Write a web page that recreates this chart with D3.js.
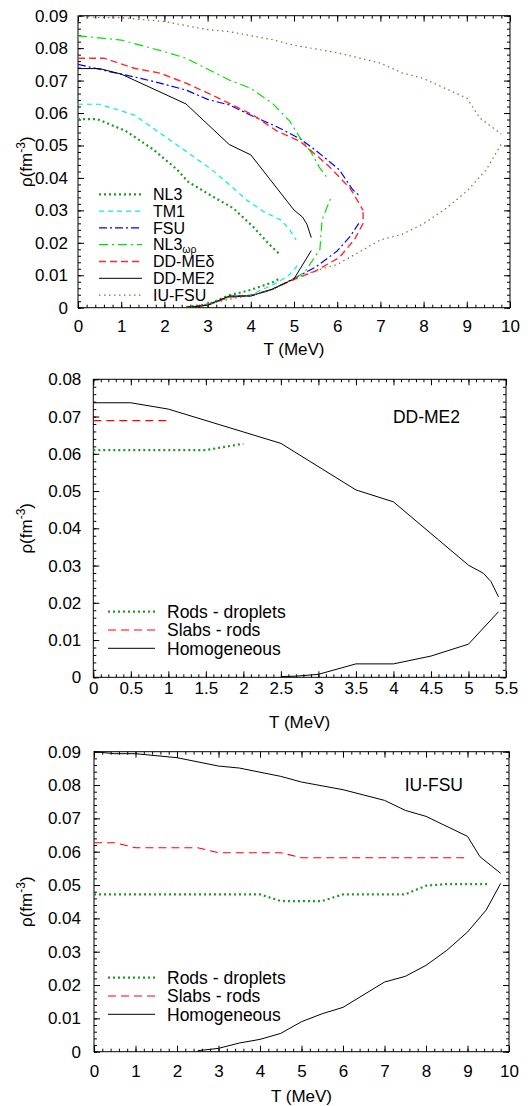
<!DOCTYPE html>
<html lang="en">
<head>
<meta charset="UTF-8">
<title>Phase boundaries</title>
<script src="https://cdn.jsdelivr.net/npm/d3@7/dist/d3.min.js"></script>
<style>
  body { margin: 0; background: #fff; }
  svg { display: block; font-family: "Liberation Sans", Arial, sans-serif; }
  .frame { fill: none; stroke: #000; stroke-width: 1; }
  .curve { fill: none; stroke-linejoin: round; }
  .axis path { display: none; }
  .axis line { stroke: #000; }
</style>
</head>
<body>
<div id="chart"></div>
<script>
// ---- data: [T (MeV), rho (fm^-3)] ----
const nl3Upper = [[0,0.0581],[0.45,0.0581],[1.1,0.0545],[1.75,0.0487],[2.3,0.0425],[2.55,0.0388],[3.0,0.0352],[3.6,0.0306],[4.05,0.0250],[4.4,0.0199],[4.68,0.0163]]
const nl3Lower = [[2.5,0.0002],[3.0,0.0010],[3.5,0.0038],[4.0,0.0055],[4.5,0.0078],[4.7,0.0092]]
const tm1Upper = [[0,0.0627],[0.5,0.0627],[1.3,0.0594],[1.9,0.0538],[2.5,0.0482],[3.1,0.0425],[3.6,0.0368],[3.9,0.0332],[4.3,0.0296],[4.7,0.0270],[4.9,0.0240],[5.05,0.0209]]
const tm1Lower = [[2.5,0.0002],[3.0,0.0010],[3.5,0.0035],[4.0,0.0040],[4.5,0.0070],[4.85,0.0096],[5.05,0.0125],[5.1,0.0142]]
const fsuUpper = [[0,0.0750],[0.75,0.0727],[1.45,0.0707],[1.9,0.0692],[2.5,0.0671],[3.0,0.0642],[3.5,0.0625],[4.05,0.0590],[4.6,0.0558],[5.15,0.0520],[5.55,0.0480],[6.05,0.0425],[6.35,0.0365],[6.5,0.0347]]
const fsuLower = [[2.5,0.0002],[3.0,0.0008],[3.5,0.0033],[4.0,0.0037],[4.5,0.0057],[5.0,0.0090],[5.5,0.0125],[6.0,0.0175],[6.3,0.0220],[6.5,0.0260]]
const nl3wrUpper = [[0,0.0838],[1.0,0.0825],[2.0,0.0789],[2.5,0.0769],[3.5,0.0702],[4.0,0.0676],[4.5,0.0630],[4.9,0.0575],[5.15,0.0522],[5.4,0.0478],[5.6,0.0430],[5.8,0.0395]]
const nl3wrLower = [[2.5,0.0002],[3.0,0.0008],[3.5,0.0033],[4.0,0.0037],[4.5,0.0057],[5.0,0.0089],[5.25,0.0110],[5.45,0.0150],[5.6,0.0180],[5.65,0.0270],[5.75,0.0305],[5.85,0.0337]]
const ddmedUpper = [[0,0.0769],[0.6,0.0769],[1.3,0.0738],[1.9,0.0723],[2.5,0.0692],[3.1,0.0656],[3.5,0.0630],[4.05,0.0594],[4.6,0.0545],[5.15,0.0512],[5.8,0.0437],[6.3,0.0368],[6.6,0.0300]]
const ddmedLower = [[2.5,0.0002],[3.0,0.0008],[3.5,0.0033],[4.0,0.0037],[4.5,0.0057],[5.05,0.0090],[5.5,0.0113],[6.05,0.0155],[6.4,0.0210],[6.6,0.0260],[6.6,0.0300]]
const ddme2Upper = [[0,0.0737],[0.5,0.0737],[1.0,0.0720],[2.5,0.0628],[3.5,0.0503],[4.0,0.0471],[4.6,0.0369],[5.0,0.0301],[5.2,0.0279],[5.3,0.0257],[5.4,0.0216]]
const ddme2Lower = [[2.5,0.0002],[2.7,0.0003],[3.0,0.0008],[3.5,0.0036],[4.0,0.0036],[4.5,0.0057],[5.0,0.0089],[5.4,0.0176]]
const iufsuUpper = [[0,0.0900],[0.5,0.0894],[1.0,0.0894],[2.0,0.0882],[3.0,0.0857],[3.5,0.0851],[4.5,0.0826],[5.0,0.0809],[6.0,0.0786],[7.0,0.0754],[7.5,0.0724],[8.0,0.0706],[9.0,0.0646],[9.3,0.0585],[9.8,0.0535]]
const iufsuLower = [[2.5,0.0003],[3.0,0.0010],[3.5,0.0026],[4.0,0.0037],[4.5,0.0055],[5.0,0.0090],[5.5,0.0114],[6.0,0.0133],[7.0,0.0209],[7.5,0.0226],[8.0,0.0259],[8.5,0.0304],[9.0,0.0359],[9.45,0.0425],[9.8,0.0505]]

// pasta transitions
const ddme2Rods = [[0,0.0610],[0.5,0.0610],[1.0,0.0610],[1.5,0.0610],[2.0,0.0627]]
const ddme2Slabs = [[0,0.0689],[0.5,0.0689],[1.0,0.0689]]
const iufsuRods = [[0,0.0472],[0.5,0.0472],[1,0.0472],[1.5,0.0472],[2,0.0472],[2.5,0.0472],[3,0.0472],[3.5,0.0472],[4,0.0472],[4.5,0.0452],[5,0.0452],[5.5,0.0452],[6,0.0472],[6.5,0.0472],[7,0.0472],[7.5,0.0472],[8,0.0498],[8.5,0.0503],[9,0.0503],[9.5,0.0503]]
const iufsuSlabs = [[0,0.0627],[0.5,0.0627],[1,0.0612],[1.5,0.0612],[2,0.0612],[2.5,0.0612],[3,0.0597],[3.5,0.0597],[4,0.0597],[4.5,0.0597],[5,0.0582],[5.5,0.0582],[6,0.0582],[6.5,0.0582],[7,0.0582],[7.5,0.0582],[8,0.0582],[8.5,0.0582],[9,0.0582]]

const modelNames = ['NL3', 'TM1', 'FSU', 'NL3ωρ', 'DD-MEδ', 'DD-ME2', 'IU-FSU']
const pastaNames = ['Rods - droplets', 'Slabs - rods', 'Homogeneous']

// ---- line styles ----
const st = {
  nl3:   { stroke: '#1f9a1f', width: 2.2, dash: '2,3' },
  tm1:   { stroke: '#00ecec', width: 1.2, dash: '5,4' },
  fsu:   { stroke: '#0000ff', width: 1.2, dash: '8,3,2,3' },
  nl3wr: { stroke: '#00e000', width: 1.2, dash: '9,4,2,4' },
  ddmed: { stroke: '#ff2a2a', width: 1.4, dash: '7,4' },
  ddme2: { stroke: '#000000', width: 1,   dash: null },
  iufsu: { stroke: '#a0603c', width: 1.2, dash: '1.5,3.5' },
  rods:  { stroke: '#1f9a1f', width: 2.2, dash: '2,3' },
  slabs: { stroke: '#ff0000', width: 1.1, dash: '8,5' },
  homog: { stroke: '#000000', width: 1,   dash: null }
}

const W = 532, H = 1106
const svg = d3.select('#chart').append('svg').attr('width', W).attr('height', H)
svg.append('rect').attr('width', W).attr('height', H).attr('fill', '#fff')

const panels = [
  {
    left: 78, right: 510, top: 15.7, bottom: 307.7,
    xMax: 10, xStep: 1, xMinor: 0.2, yMax: 0.09, yMinor: 0.002,
    xPad: 12, yPad: 10, titleY: 355,
    legend: { x1: 99, x2: 142, tx: 153, y0: 194.3, dy: 16.8, fs: 16 },
    series: [
      { data: [nl3Upper, nl3Lower], s: st.nl3, name: modelNames[0] },
      { data: [tm1Upper, tm1Lower], s: st.tm1, name: modelNames[1] },
      { data: [fsuUpper, fsuLower], s: st.fsu, name: modelNames[2] },
      { data: [nl3wrUpper, nl3wrLower], s: st.nl3wr, name: modelNames[3], sub: true },
      { data: [ddmedUpper, ddmedLower], s: st.ddmed, name: modelNames[4] },
      { data: [ddme2Upper, ddme2Lower], s: st.ddme2, name: modelNames[5] },
      { data: [iufsuUpper, iufsuLower], s: st.iufsu, name: modelNames[6] }
    ]
  },
  {
    left: 93.3, right: 506, top: 379.3, bottom: 677.3,
    xMax: 5.5, xStep: 0.5, xMinor: 0.1, yMax: 0.08, yMinor: 0.002,
    xPad: 5, yPad: 12, titleY: 728,
    note: { text: 'DD-ME2', x: 460, y: 423 },
    legend: { x1: 108, x2: 155, tx: 167, y0: 611.7, dy: 18.3, fs: 17.5 },
    series: [
      { data: [ddme2Rods], s: st.rods, name: pastaNames[0] },
      { data: [ddme2Slabs], s: st.slabs, name: pastaNames[1] },
      { data: [ddme2Upper, ddme2Lower], s: st.homog, name: pastaNames[2] }
    ]
  },
  {
    left: 94, right: 509, top: 751.7, bottom: 1051.7,
    xMax: 10, xStep: 1, xMinor: 0.2, yMax: 0.09, yMinor: 0.002,
    xPad: 13, yPad: 13, titleY: 1102,
    note: { text: 'IU-FSU', x: 463, y: 791 },
    legend: { x1: 108, x2: 155, tx: 167, y0: 977.7, dy: 18.3, fs: 17.5 },
    series: [
      { data: [iufsuRods], s: st.rods, name: pastaNames[0] },
      { data: [iufsuSlabs], s: st.slabs, name: pastaNames[1] },
      { data: [iufsuUpper, iufsuLower], s: st.homog, name: pastaNames[2] }
    ]
  }
]

const fmtY = d => Math.abs(d) < 1e-9 ? '0' : d3.format('.2f')(d)
const fmtX = d => String(+d.toFixed(1))

function applyStyle(sel, s) {
  sel.attr('stroke', s.stroke).attr('stroke-width', s.width)
  if (s.dash) sel.attr('stroke-dasharray', s.dash)
}

function drawPanel(p) {
  const x = d3.scaleLinear().domain([0, p.xMax]).range([p.left, p.right])
  const y = d3.scaleLinear().domain([0, p.yMax]).range([p.bottom, p.top])
  const g = svg.append('g')

  const xMajor = d3.range(0, p.xMax + 1e-9, p.xStep)
  const xMin = d3.range(0, p.xMax + 1e-9, p.xMinor)
  const yMajor = d3.range(0, p.yMax + 1e-9, 0.01)
  const yMin = d3.range(0, p.yMax + 1e-9, p.yMinor)

  // inward ticks on all four sides
  const axes = [
    [d3.axisBottom(x), p.bottom, 'x'], [d3.axisTop(x), p.top, 'x'],
    [d3.axisLeft(y), p.left, 'y'], [d3.axisRight(y), p.right, 'y']
  ]
  axes.forEach(([ax, pos, dim], i) => {
    const tr = dim === 'x' ? `translate(0,${pos})` : `translate(${pos},0)`
    g.append('g').attr('class', 'axis').attr('transform', tr)
      .call(ax.tickValues(dim === 'x' ? xMin : yMin).tickSize(-3).tickFormat(''))
    const major = g.append('g').attr('class', 'axis').attr('transform', tr)
      .call(ax.tickValues(dim === 'x' ? xMajor : yMajor).tickSize(-6)
        .tickPadding(dim === 'x' ? p.xPad : p.yPad)
        .tickFormat(i === 0 ? fmtX : i === 2 ? fmtY : ''))
    major.selectAll('text').attr('font-size', 17).attr('fill', '#000')
      .attr('font-family', '"Liberation Sans", Arial, sans-serif')
  })

  g.append('rect').attr('class', 'frame')
    .attr('x', p.left).attr('y', p.top)
    .attr('width', p.right - p.left).attr('height', p.bottom - p.top)

  // curves
  const line = d3.line().x(d => x(d[0])).y(d => y(d[1]))
  p.series.forEach(sr => {
    sr.data.forEach(arr => {
      g.append('path').attr('class', 'curve').attr('d', line(arr)).call(applyStyle, sr.s)
    })
  })

  // legend
  const L = p.legend
  p.series.forEach((sr, i) => {
    const yy = L.y0 + i * L.dy
    g.append('line').attr('x1', L.x1).attr('x2', L.x2).attr('y1', yy).attr('y2', yy)
      .call(applyStyle, sr.s)
    const t = g.append('text').attr('x', L.tx).attr('y', yy).attr('dy', '0.36em')
      .attr('font-size', L.fs)
    if (sr.sub) {
      t.text('NL3')
      t.append('tspan').attr('font-size', 10.5).attr('dy', 2.5).text('ωρ')
    } else {
      t.text(sr.name)
    }
  })

  if (p.note) {
    g.append('text').attr('x', p.note.x).attr('y', p.note.y)
      .attr('text-anchor', 'end').attr('font-size', 17.5).text(p.note.text)
  }

  // axis titles
  g.append('text').attr('x', (p.left + p.right) / 2).attr('y', p.titleY)
    .attr('text-anchor', 'middle').attr('font-size', 17).text('T (MeV)')
  const yt = g.append('text')
    .attr('transform', `translate(32,${(p.top + p.bottom) / 2}) rotate(-90)`)
    .attr('text-anchor', 'middle').attr('font-size', 17)
  yt.append('tspan').text('ρ(fm')
  yt.append('tspan').attr('font-size', 12).attr('dy', -7).text('-3')
  yt.append('tspan').attr('dy', 7).text(')')
}

panels.forEach(drawPanel)
</script>
</body>
</html>
